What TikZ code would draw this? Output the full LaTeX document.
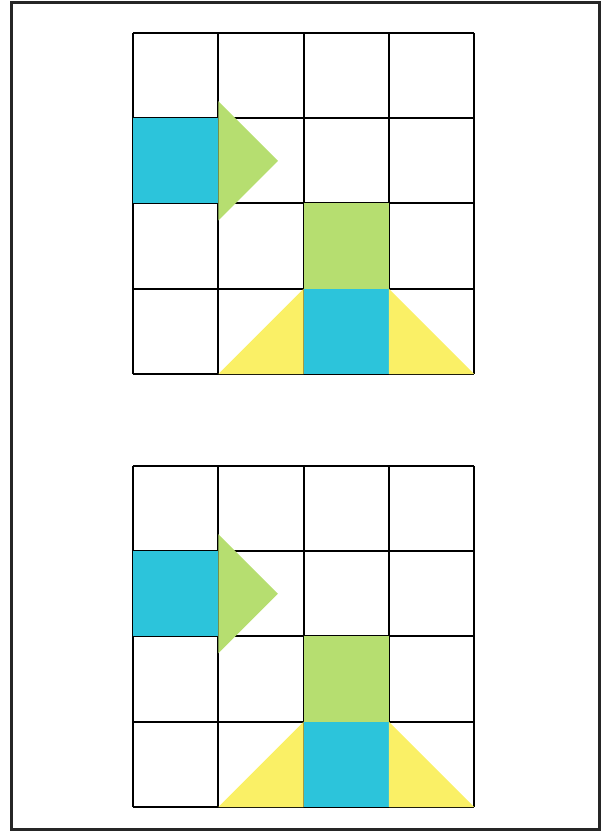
\documentclass[tikz,border=0pt]{standalone}
\definecolor{paperblue}{RGB}{44,196,219}
\definecolor{papergreen}{RGB}{182,222,112}
\definecolor{paperyellow}{RGB}{250,240,102}
\begin{document}
\begin{tikzpicture}[x=1.5cm, y=1.5cm,
    gridline/.style={line width=1pt, black},
    frameline/.style={line width=1.5pt, black!85},
    bluepaper/.style={fill=paperblue},
    greenpaper/.style={fill=papergreen},
    yellowpaper/.style={fill=paperyellow}]
\useasboundingbox (0,0) rectangle (7.151,9.754);

% Rahmen um das Blatt
\draw[frameline] (0.14,0.03) rectangle (7.03,9.72);

% zwei gleiche Raster (unten, oben)
\foreach \gy in {0.293, 5.369} {
  \begin{scope}[shift={(1.559,\gy)}]
    \draw[gridline, step={(1,1)}] (0,0) grid (4,4);
    % Pfeil links
    \fill[bluepaper]   (0,2) rectangle (1,3);
    \fill[greenpaper]  (1,3.2) -- (1.7,2.5) -- (1,1.8) -- cycle;
    % Turm mit Sockel
    \fill[greenpaper]  (2,1) rectangle (3,2);
    \fill[bluepaper]   (2,0) rectangle (3,1);
    \fill[yellowpaper] (1,0) -- (2,1) -- (2,0) -- cycle;
    \fill[yellowpaper] (3,0) -- (3,1) -- (4,0) -- cycle;
  \end{scope}
}

\end{tikzpicture}
\end{document}
